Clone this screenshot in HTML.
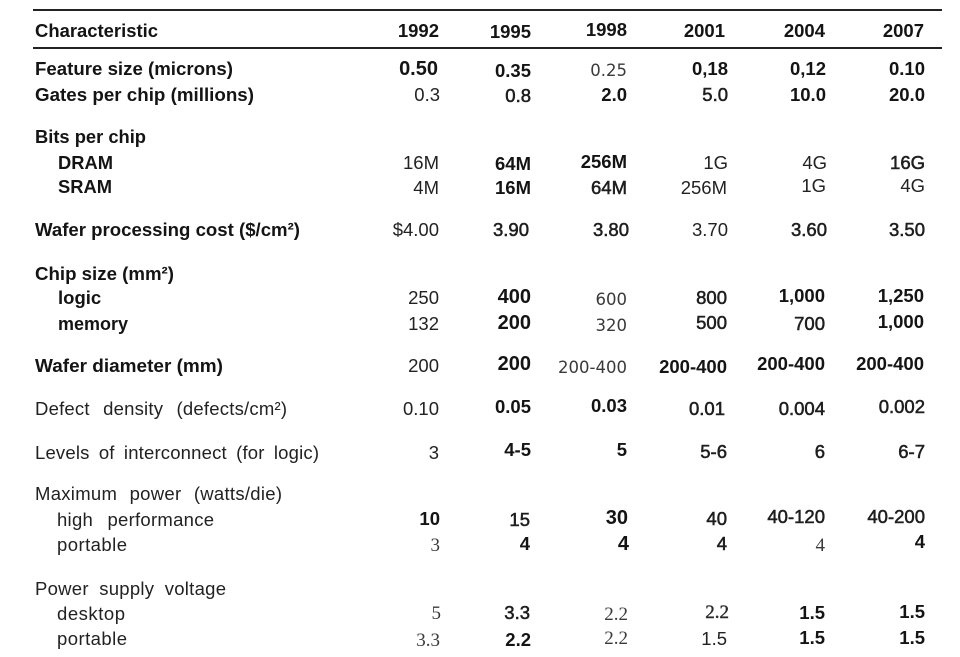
<!DOCTYPE html>
<html>
<head>
<meta charset="utf-8">
<style>
  html, body { margin:0; padding:0; background:#fff; }
  body { width:960px; height:657px; overflow:hidden; }
  svg { display:block; }
  .b { font-family:"Liberation Sans", Arial, sans-serif; font-weight:bold; font-size:18.5px; fill:#141414; }
  .r { font-family:"Liberation Sans", Arial, sans-serif; font-size:18.5px; fill:#222; }
  .m { font-family:"Liberation Sans", Arial, sans-serif; font-size:18.5px; fill:#1e1e1e; stroke:#1e1e1e; stroke-width:0.55px; }
  .l { font-family:"DejaVu Sans", "Liberation Sans", sans-serif; font-size:16.5px; fill:#3a3a3a; }
  .s { font-family:"Liberation Serif", serif; font-size:19px; fill:#3a3a3a; }
  .sm { font-family:"Liberation Serif", serif; font-size:19px; fill:#2a2a2a; stroke:#2a2a2a; stroke-width:0.4px; }
  .big { font-size:20px; }
  .n { text-anchor:end; }
</style>
</head>
<body>
<svg width="960" height="657" viewBox="0 0 960 657" xmlns="http://www.w3.org/2000/svg">
  <rect x="0" y="0" width="960" height="657" fill="#fff"/>
  <!-- rules -->
  <rect x="33" y="9" width="909" height="2" fill="#222"/>
  <rect x="33" y="47" width="909" height="2" fill="#222"/>

  <!-- header -->
  <text class="b" x="35" y="37" textLength="123" lengthAdjust="spacingAndGlyphs">Characteristic</text>
  <text class="b n" x="439" y="37">1992</text>
  <text class="b n" x="531" y="38">1995</text>
  <text class="b n" x="627" y="36">1998</text>
  <text class="b n" x="725" y="37">2001</text>
  <text class="b n" x="825" y="37">2004</text>
  <text class="b n" x="924" y="37">2007</text>

  <!-- labels -->
  <text class="b" x="35" y="75" textLength="198" lengthAdjust="spacingAndGlyphs">Feature size (microns)</text>
  <text class="b" x="35" y="101" textLength="219" lengthAdjust="spacingAndGlyphs">Gates per chip (millions)</text>
  <text class="b" x="35" y="143" textLength="111" lengthAdjust="spacingAndGlyphs">Bits per chip</text>
  <text class="b" x="58" y="169" textLength="55" lengthAdjust="spacingAndGlyphs">DRAM</text>
  <text class="b" x="58" y="193" textLength="54" lengthAdjust="spacingAndGlyphs">SRAM</text>
  <text class="b" x="35" y="236" textLength="265" lengthAdjust="spacingAndGlyphs">Wafer processing cost ($/cm²)</text>
  <text class="b" x="35" y="280" textLength="139" lengthAdjust="spacingAndGlyphs">Chip size (mm²)</text>
  <text class="b" x="58" y="304">logic</text>
  <text class="b" x="58" y="330" textLength="70" lengthAdjust="spacingAndGlyphs">memory</text>
  <text class="b" x="35" y="372" textLength="188" lengthAdjust="spacingAndGlyphs">Wafer diameter (mm)</text>
  <text class="r" x="35" y="415" textLength="252" lengthAdjust="spacing" style="word-spacing:8px">Defect density (defects/cm²)</text>
  <text class="r" x="35" y="459" textLength="284" lengthAdjust="spacing" style="word-spacing:4px">Levels of interconnect (for logic)</text>
  <text class="r" x="35" y="500" textLength="247" lengthAdjust="spacing" style="word-spacing:7px">Maximum power (watts/die)</text>
  <text class="r" x="57" y="526" textLength="157" lengthAdjust="spacing" style="word-spacing:9px">high performance</text>
  <text class="r" x="57" y="551" textLength="70" lengthAdjust="spacing">portable</text>
  <text class="r" x="35" y="595" textLength="191" lengthAdjust="spacing" style="word-spacing:5px">Power supply voltage</text>
  <text class="r" x="57" y="620" textLength="68" lengthAdjust="spacing">desktop</text>
  <text class="r" x="57" y="645" textLength="70" lengthAdjust="spacing">portable</text>

  <!-- Feature size -->
  <text class="b big n" x="438" y="75">0.50</text>
  <text class="b n" x="531" y="77">0.35</text>
  <text class="l n" x="627" y="76">0.25</text>
  <text class="b n" x="728" y="75">0,18</text>
  <text class="b n" x="826" y="75">0,12</text>
  <text class="b n" x="925" y="75">0.10</text>

  <!-- Gates -->
  <text class="r n" x="440" y="101">0.3</text>
  <text class="m n" x="531" y="102">0.8</text>
  <text class="b n" x="627" y="101">2.0</text>
  <text class="m n" x="728" y="101">5.0</text>
  <text class="b n" x="826" y="101">10.0</text>
  <text class="b n" x="925" y="101">20.0</text>

  <!-- DRAM -->
  <text class="r n" x="439" y="169">16M</text>
  <text class="b n" x="531" y="170">64M</text>
  <text class="b n" x="627" y="168">256M</text>
  <text class="r n" x="728" y="169">1G</text>
  <text class="r n" x="827" y="169">4G</text>
  <text class="m n" x="925" y="169">16G</text>

  <!-- SRAM -->
  <text class="r n" x="439" y="194">4M</text>
  <text class="b n" x="531" y="194">16M</text>
  <text class="m n" x="627" y="194">64M</text>
  <text class="r n" x="727" y="194">256M</text>
  <text class="r n" x="826" y="192">1G</text>
  <text class="r n" x="925" y="192">4G</text>

  <!-- Wafer cost -->
  <text class="r n" x="439" y="236">$4.00</text>
  <text class="m n" x="529" y="236">3.90</text>
  <text class="m n" x="629" y="236">3.80</text>
  <text class="r n" x="728" y="236">3.70</text>
  <text class="m n" x="827" y="236">3.60</text>
  <text class="m n" x="925" y="236">3.50</text>

  <!-- logic -->
  <text class="r n" x="439" y="304">250</text>
  <text class="b big n" x="531" y="303">400</text>
  <text class="l n" x="627" y="305">600</text>
  <text class="m n" x="727" y="304">800</text>
  <text class="b n" x="825" y="302">1,000</text>
  <text class="b n" x="924" y="302">1,250</text>

  <!-- memory -->
  <text class="r n" x="439" y="330">132</text>
  <text class="b big n" x="531" y="329">200</text>
  <text class="l n" x="627" y="331">320</text>
  <text class="m n" x="727" y="329">500</text>
  <text class="m n" x="825" y="330">700</text>
  <text class="b n" x="924" y="328">1,000</text>

  <!-- Wafer diameter -->
  <text class="r n" x="439" y="372">200</text>
  <text class="b big n" x="531" y="370">200</text>
  <text class="l n" x="627" y="373">200-400</text>
  <text class="b n" x="727" y="373">200-400</text>
  <text class="b n" x="825" y="370">200-400</text>
  <text class="b n" x="924" y="370">200-400</text>

  <!-- Defect density -->
  <text class="r n" x="439" y="415">0.10</text>
  <text class="b n" x="531" y="413">0.05</text>
  <text class="b n" x="627" y="412">0.03</text>
  <text class="m n" x="725" y="415">0.01</text>
  <text class="m n" x="825" y="415">0.004</text>
  <text class="m n" x="925" y="413">0.002</text>

  <!-- Levels -->
  <text class="r n" x="439" y="459">3</text>
  <text class="b n" x="531" y="456">4-5</text>
  <text class="b n" x="627" y="456">5</text>
  <text class="m n" x="727" y="458">5-6</text>
  <text class="m n" x="825" y="458">6</text>
  <text class="m n" x="925" y="458">6-7</text>

  <!-- high performance -->
  <text class="b n" x="440" y="525">10</text>
  <text class="m n" x="530" y="526">15</text>
  <text class="b big n" x="628" y="524">30</text>
  <text class="m n" x="727" y="525">40</text>
  <text class="m n" x="825" y="523">40-120</text>
  <text class="m n" x="925" y="523">40-200</text>

  <!-- portable power -->
  <text class="s n" x="440" y="551">3</text>
  <text class="b n" x="530" y="550">4</text>
  <text class="b big n" x="629" y="550">4</text>
  <text class="m n" x="727" y="550">4</text>
  <text class="s n" x="825" y="551">4</text>
  <text class="b n" x="925" y="548">4</text>

  <!-- desktop voltage -->
  <text class="s n" x="441" y="619">5</text>
  <text class="m n" x="530" y="619">3.3</text>
  <text class="s n" x="628" y="620">2.2</text>
  <text class="sm n" x="729" y="618">2.2</text>
  <text class="b n" x="825" y="619">1.5</text>
  <text class="b n" x="925" y="618">1.5</text>

  <!-- portable voltage -->
  <text class="s n" x="440" y="646">3.3</text>
  <text class="b n" x="531" y="646">2.2</text>
  <text class="s n" x="628" y="644">2.2</text>
  <text class="r n" x="727" y="645">1.5</text>
  <text class="b n" x="825" y="644">1.5</text>
  <text class="b n" x="925" y="644">1.5</text>
</svg>
</body>
</html>
